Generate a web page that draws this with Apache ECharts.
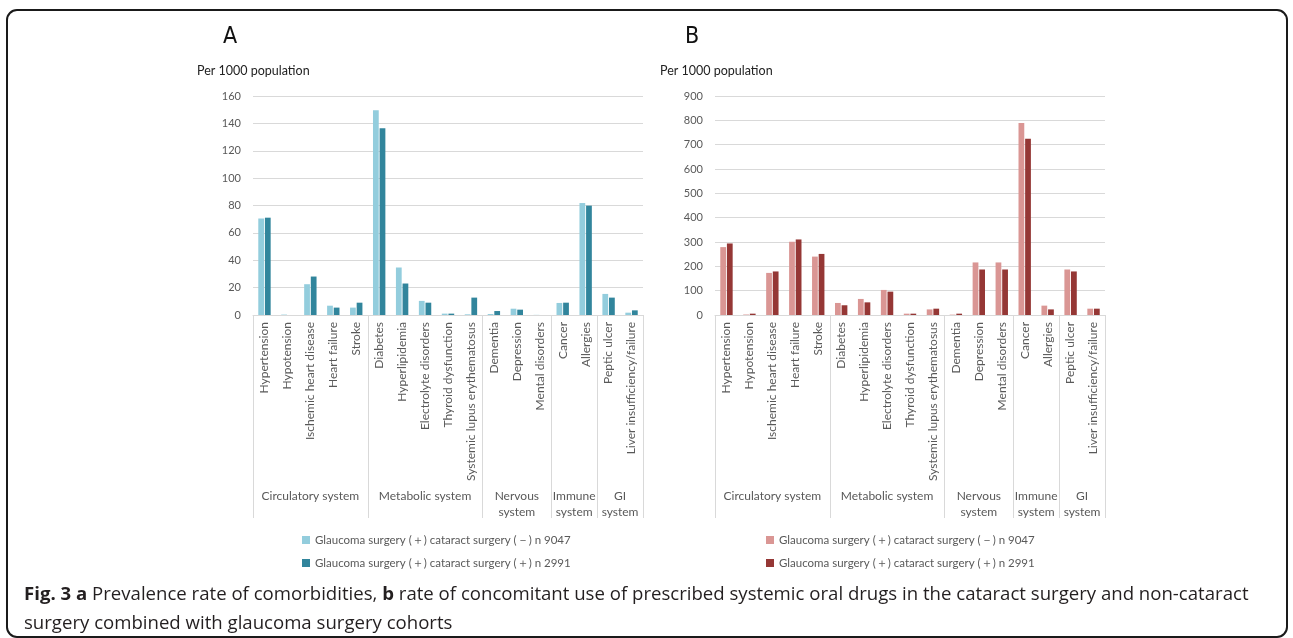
<!DOCTYPE html>
<html>
<head>
<meta charset="utf-8">
<script src="https://cdn.jsdelivr.net/npm/echarts@6/dist/echarts.min.js"></script>
<style>
  html, body { margin: 0; padding: 0; background: #fff; }
  #chart { width: 1293px; height: 638px; }
</style>
</head>
<body>
<div id="chart"></div>
<script>
// Conditions / drug classes, grouped by organ system
const categories = [
  'Hypertension', 'Hypotension', 'Ischemic heart disease', 'Heart failure', 'Stroke',
  'Diabetes', 'Hyperlipidemia', 'Electrolyte disorders', 'Thyroid dysfunction', 'Systemic lupus erythematosus',
  'Dementia', 'Depression', 'Mental disorders',
  'Cancer', 'Allergies',
  'Peptic ulcer', 'Liver insufficiency/failure'
];
const groupNames = ['Circulatory system', 'Metabolic system', 'Nervous\nsystem', 'Immune\nsystem', 'GI\nsystem'];
const groupSizes = [5, 5, 3, 2, 2];

const seriesNames = [
  'Glaucoma surgery (\uFF0B) cataract surgery (\uFF0D) n 9047',
  'Glaucoma surgery (\uFF0B) cataract surgery (\uFF0B) n 2991'
];

// A: prevalence of comorbidities, per 1000 population
const comorbNoCataract = [70.5, 0.3, 22.5, 6.8, 5.4, 149.5, 34.7, 10.3, 1.0, 0.5, 0.7, 4.6, 0.1, 8.8, 81.8, 15.4, 1.7];
const comorbCataract   = [71.1, 0,   28.1, 5.4, 9.0, 136.5, 23.0, 9.0,  1.0, 12.7, 2.9, 3.9, 0,  9.0, 79.9, 12.7, 3.4];

// B: concomitant systemic oral drug use, per 1000 population
const drugsNoCataract = [279, 2,   173, 301, 240, 49.5, 66, 103, 5.5, 23, 1.5, 216, 216, 789, 38.5, 187, 26];
const drugsCataract   = [294, 5.5, 179, 310.5, 251, 40, 52, 96, 5.5, 26, 5.5, 187, 187, 724, 23, 179, 26];

const yTicksA = { min: 0, max: 160, interval: 20 };
const yTicksB = { min: 0, max: 900, interval: 100 };

const colorsA = ['#93CDDD', '#31859C'];
const colorsB = ['#DA9694', '#953735'];

const FONT = 'Lato, "Open Sans", sans-serif';
const CAPTION_FONT = '"Open Sans", Lato, sans-serif';
const GRAY = '#595959';
const GRID_LINE = '#D9D9D9';

const chart = echarts.init(document.getElementById('chart'), null, { renderer: 'canvas' });

const grids = [
  { left: 253, top: 96, width: 390, height: 219 },
  { left: 715, top: 96, width: 390, height: 219 }
];

function xAxis(gi) {
  return {
    type: 'category', gridIndex: gi, data: categories,
    axisLine: { show: true, lineStyle: { color: GRID_LINE, width: 1 } },
    axisTick: { show: false },
    axisLabel: { rotate: 90, interval: 0, margin: 7, fontSize: 12, color: GRAY, fontFamily: FONT }
  };
}
function yAxis(gi, t) {
  return {
    type: 'value', gridIndex: gi, min: t.min, max: t.max, interval: t.interval,
    axisLine: { show: false }, axisTick: { show: false },
    axisLabel: { margin: 12, fontSize: 11, color: GRAY, fontFamily: FONT },
    splitLine: { lineStyle: { color: GRID_LINE, width: 1 } }
  };
}
function bar(gi, name, data, color) {
  return {
    type: 'bar', name, data, xAxisIndex: gi, yAxisIndex: gi,
    barCategoryGap: '46%', barGap: '15%',
    itemStyle: { color }, animation: false
  };
}
function legend(left, colors) {
  return {
    left, top: 534, padding: 0, orient: 'vertical', itemGap: 11, itemWidth: 8, itemHeight: 8, icon: 'rect',
    textStyle: { fontSize: 11.5, color: GRAY, fontFamily: FONT },
    data: [
      { name: seriesNames[0], itemStyle: { color: colors[0] } },
      { name: seriesNames[1], itemStyle: { color: colors[1] } }
    ],
    selectedMode: false
  };
}

const option = {
  animation: false,
  grid: grids,
  xAxis: [xAxis(0), xAxis(1)],
  yAxis: [yAxis(0, yTicksA), yAxis(1, yTicksB)],
  legend: [legend(302, colorsA), legend(766, colorsB)],
  series: [
    bar(0, seriesNames[0], comorbNoCataract, colorsA[0]),
    bar(0, seriesNames[1], comorbCataract, colorsA[1]),
    bar(1, seriesNames[0], drugsNoCataract, colorsB[0]),
    bar(1, seriesNames[1], drugsCataract, colorsB[1])
  ]
};
chart.setOption(option);

// Group separators and group labels below the category labels, placed from the axis scale
const extra = [];
[0, 1].forEach(gi => {
  const p0 = chart.convertToPixel({ xAxisIndex: gi }, categories[0]);
  const p1 = chart.convertToPixel({ xAxisIndex: gi }, categories[1]);
  const band = p1 - p0;
  const y0 = chart.convertToPixel({ yAxisIndex: gi }, 0);
  const yBottom = y0 + 203;
  let idx = 0;
  const edges = [p0 - band / 2];
  groupSizes.forEach((n, g) => {
    const start = chart.convertToPixel({ xAxisIndex: gi }, categories[idx]) - band / 2;
    idx += n;
    const end = chart.convertToPixel({ xAxisIndex: gi }, categories[idx - 1]) + band / 2;
    edges.push(end);
    extra.push({
      type: 'text', x: (start + end) / 2, y: y0 + 173,
      style: { text: groupNames[g], fill: GRAY, font: '12px ' + FONT, align: 'center', verticalAlign: 'top', lineHeight: 16 }
    });
  });
  edges.forEach(x => {
    extra.push({
      type: 'line', shape: { x1: Math.round(x) + 0.5, y1: y0, x2: Math.round(x) + 0.5, y2: yBottom },
      style: { stroke: GRID_LINE, lineWidth: 1 }
    });
  });
});

// Panel letters, axis titles, outer frame and caption
extra.push(
  { type: 'text', x: 230, y: 37, style: { text: 'A', fill: '#111', font: '23px "Liberation Sans Narrow", "DejaVu Sans Condensed", sans-serif', align: 'center', verticalAlign: 'middle' } },
  { type: 'text', x: 692, y: 37, style: { text: 'B', fill: '#111', font: '23px "Liberation Sans Narrow", "DejaVu Sans Condensed", sans-serif', align: 'center', verticalAlign: 'middle' } },
  { type: 'text', x: 197, y: 71, style: { text: 'Per 1000 population', fill: '#222', font: '12.5px ' + FONT, verticalAlign: 'middle' } },
  { type: 'text', x: 660, y: 71, style: { text: 'Per 1000 population', fill: '#222', font: '12.5px ' + FONT, verticalAlign: 'middle' } },
  { type: 'rect', shape: { x: 7, y: 10, width: 1280, height: 627, r: 10 }, style: { fill: null, stroke: '#1a1a1a', lineWidth: 2 } },
  {
    type: 'text', x: 24, y: 580,
    style: {
      text: '{b|Fig. 3 a} Prevalence rate of comorbidities, {b|b} rate of concomitant use of prescribed systemic oral drugs in the cataract surgery and non-cataract\nsurgery combined with glaucoma surgery cohorts',
      fill: '#231F20', font: '18.6px ' + CAPTION_FONT, lineHeight: 29, verticalAlign: 'top',
      rich: { b: { fontWeight: 'bold', fontSize: 18.6, fontFamily: CAPTION_FONT, fill: '#231F20' } }
    }
  }
);

chart.setOption({ graphic: extra });
</script>
</body>
</html>
